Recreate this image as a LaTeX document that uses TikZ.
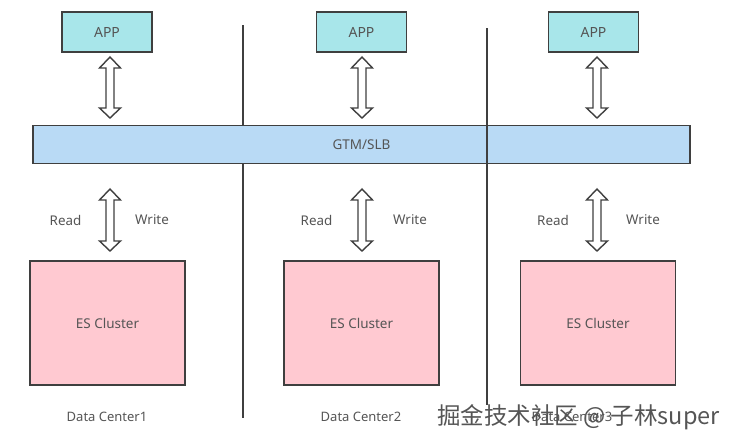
\documentclass[tikz,border=0pt]{standalone}
\usepackage{fontspec}
\setmainfont{Noto Sans}
\newfontfamily\cjk{Noto Sans CJK SC}
\usetikzlibrary{calc}
\definecolor{appfill}{HTML}{A8E6EA}
\definecolor{gtmfill}{HTML}{B9DAF5}
\definecolor{esfill}{HTML}{FFC9D1}
\definecolor{edge}{HTML}{3F3F3F}
\definecolor{txt}{HTML}{555555}
\tikzset{
  box/.style={draw=edge, line width=1.8pt, inner sep=0pt, text=txt, font=\fontsize{13.5}{15}\selectfont},
  appbox/.style={box, fill=appfill, minimum width=90pt, minimum height=40pt, font=\fontsize{14}{16}\selectfont},
  gtmbox/.style={box, fill=gtmfill, minimum width=657pt, minimum height=38pt},
  esbox/.style={box, fill=esfill, minimum width=155pt, minimum height=124pt},
  lbl/.style={text=txt, font=\fontsize{13.4}{15}\selectfont, inner sep=0pt},
  darr/.style={draw=edge, line width=1.4pt, fill=white, line join=miter},
  sep/.style={draw=edge, line width=1.6pt},
}
\newcommand\darrow[2]{%
  \draw[darr] let \p1=#1, \p2=#2 in
    (\x1,\y1) -- (\x1+10.5pt,\y1-11pt) -- (\x1+4pt,\y1-11pt) -- (\x1+4pt,\y2+10pt)
    -- (\x1+10.5pt,\y2+10pt) -- (\x1,\y2) -- (\x1-10.5pt,\y2+10pt) -- (\x1-4pt,\y2+10pt)
    -- (\x1-4pt,\y1-11pt) -- (\x1-10.5pt,\y1-11pt) -- cycle;}
\begin{document}
\begin{tikzpicture}[x=1pt,y=-1pt]
\useasboundingbox[fill=white] (0,0) rectangle (737,447);
% separator 1 (behind the bar)
\coordinate (s1t) at (243,25);
\coordinate (s1b) at (243,418);
\draw[sep] (s1t) -- (s1b);
% APP boxes
\node[appbox] (app1) at (107,32) {APP};
\node[appbox] (app2) at (361.5,32) {APP};
\node[appbox] (app3) at (593.5,32) {APP};
% GTM/SLB bar
\node[gtmbox] (gtm) at (361.5,144.5) {GTM/SLB};
% separator 2 (over the bar)
\coordinate (s2t) at (487,28);
\coordinate (s2b) at (487,405);
\draw[sep] (s2t) -- (s2b);
% ES clusters
\node[esbox] (es1) at (107.5,323) {ES Cluster};
\node[esbox] (es2) at (361.5,323) {ES Cluster};
\node[esbox] (es3) at (598,323) {ES Cluster};
% arrows APP <-> GTM
\coordinate (a1t) at (110,57);  \coordinate (a1b) at (110,118);
\coordinate (a2t) at (362,57);  \coordinate (a2b) at (362,118);
\coordinate (a3t) at (597,57);  \coordinate (a3b) at (597,118);
\darrow{(a1t)}{(a1b)}
\darrow{(a2t)}{(a2b)}
\darrow{(a3t)}{(a3b)}
% arrows GTM <-> ES
\coordinate (b1t) at (110,189); \coordinate (b1b) at (110,251);
\coordinate (b2t) at (362,189); \coordinate (b2b) at (362,251);
\coordinate (b3t) at (597,189); \coordinate (b3b) at (597,251);
\darrow{(b1t)}{(b1b)}
\darrow{(b2t)}{(b2b)}
\darrow{(b3t)}{(b3b)}
% read/write labels
\node[lbl] (r1) at (65.5,220) {Read};
\node[lbl] (w1) at (152,220) {Write};
\node[lbl] (r2) at (316.5,220) {Read};
\node[lbl] (w2) at (410,220) {Write};
\node[lbl] (r3) at (553,220) {Read};
\node[lbl] (w3) at (643,220) {Write};
% data center labels
\node[lbl, font=\fontsize{13}{15}\selectfont] (dc1) at (107,417) {Data Center1};
\node[lbl, font=\fontsize{13}{15}\selectfont] (dc2) at (361,417) {Data Center2};
\node[lbl, font=\fontsize{13}{15}\selectfont] (dc3) at (572,417) {Data Center3};
% watermark
\node[inner sep=0pt, text=txt, font=\cjk\fontsize{23.5}{26}\selectfont, anchor=west] (wm) at (437,417) {掘金技术社区 @ 子林super};
\end{tikzpicture}
\end{document}
